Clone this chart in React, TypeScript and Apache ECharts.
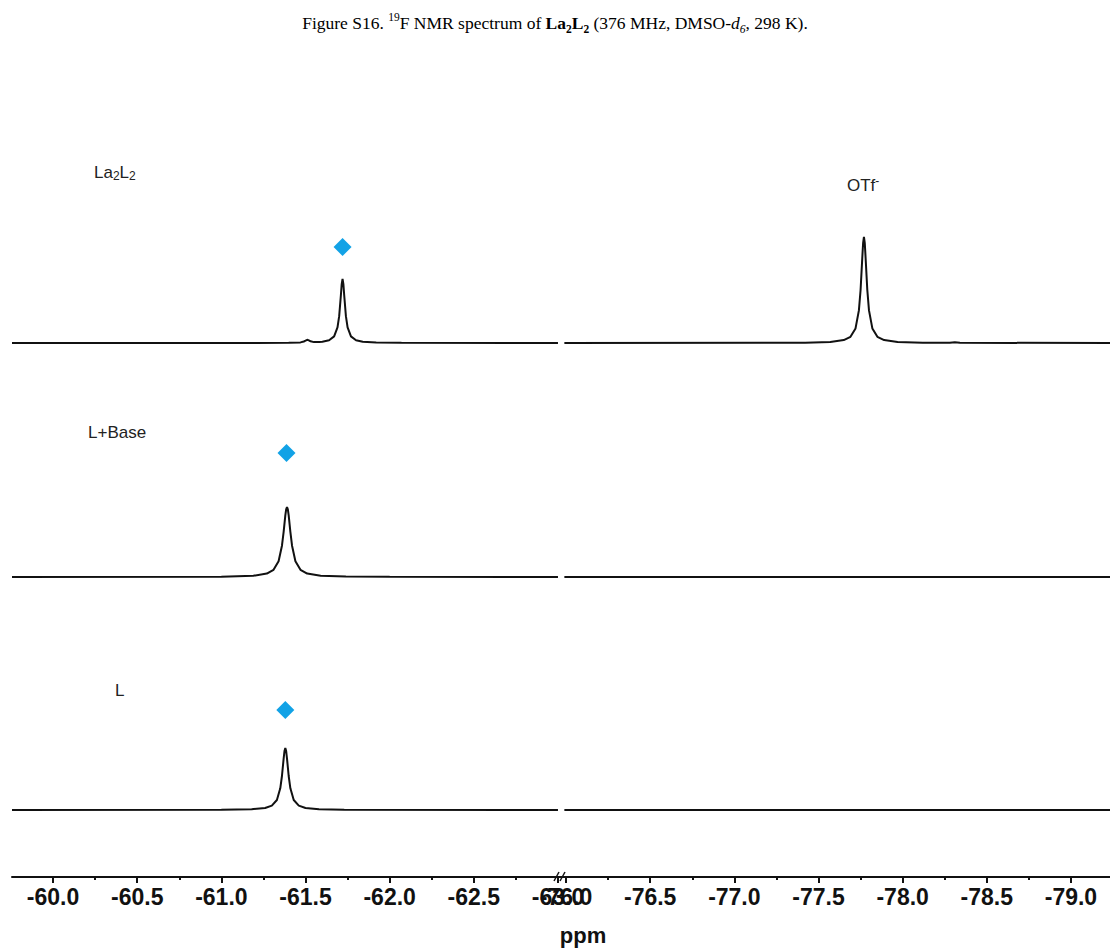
import React, { useEffect, useRef } from "react";
import * as echarts from "echarts";

// ---------- data (ppm, intensity above baseline) ----------
const La2L2Left: [number, number][] = [
  [-59.756, 0], [-61.2, 0.1], [-61.4, 0.3], [-61.47, 0.6], [-61.49, 1.5], [-61.5, 2.3],
  [-61.51, 3.2], [-61.52, 2.6], [-61.53, 1.7], [-61.55, 0.9], [-61.58, 0.9], [-61.6, 1.3],
  [-61.64, 2.8], [-61.67, 6.6], [-61.69, 15.6], [-61.7, 26.8], [-61.71, 47.5], [-61.715, 58.9],
  [-61.72, 64], [-61.725, 58.9], [-61.73, 47.5], [-61.74, 26.8], [-61.75, 15.6], [-61.77, 6.6],
  [-61.8, 2.8], [-61.84, 1.3], [-61.92, 0.46], [-62.07, 0.15], [-63.0, 0],
];
const La2L2Right: [number, number][] = [
  [-75.99, 0], [-77.3, 0.2], [-77.42, 0.35], [-77.57, 1.05], [-77.65, 2.9], [-77.69, 6.2],
  [-77.72, 14.6], [-77.74, 32.6], [-77.75, 53], [-77.76, 84.8], [-77.765, 99.8], [-77.77, 106],
  [-77.775, 99.8], [-77.78, 84.8], [-77.79, 53], [-77.8, 32.6], [-77.82, 14.6], [-77.85, 6.2],
  [-77.89, 2.9], [-77.97, 1.05], [-78.12, 0.35], [-78.28, 0.2], [-78.31, 0.8], [-78.34, 0.2],
  [-79.232, 0],
];
const LBaseLeft: [number, number][] = [
  [-59.756, 0], [-61.0, 0.3], [-61.19, 1.25], [-61.27, 3.4], [-61.31, 7.2], [-61.34, 15.8],
  [-61.36, 31.3], [-61.37, 45.2], [-61.38, 61.6], [-61.385, 67.7], [-61.39, 70], [-61.395, 67.7],
  [-61.4, 61.6], [-61.41, 45.2], [-61.42, 31.3], [-61.44, 15.8], [-61.47, 7.2], [-61.51, 3.4],
  [-61.59, 1.25], [-61.74, 0.41], [-62.0, 0.15], [-63.0, 0],
];
const LBaseRight: [number, number][] = [[-75.99, 0], [-79.232, 0]];
const LLeft: [number, number][] = [
  [-59.756, 0], [-61.0, 0.15], [-61.18, 0.74], [-61.26, 2], [-61.3, 4.4], [-61.33, 10],
  [-61.35, 21.7], [-61.36, 34], [-61.37, 51.4], [-61.375, 59], [-61.38, 62], [-61.385, 59],
  [-61.39, 51.4], [-61.4, 34], [-61.41, 21.7], [-61.43, 10], [-61.46, 4.4], [-61.5, 2],
  [-61.58, 0.74], [-61.73, 0.25], [-63.0, 0],
];
const LRight: [number, number][] = [[-75.99, 0], [-79.232, 0]];

// diamond markers: ppm of the marked peak
const markerPpm = [-61.72, -61.387, -61.38];

// tick labels
const leftTickLabels = [-60.0, -60.5, -61.0, -61.5, -62.0, -62.5, -63.0];
const rightTickLabels = [-76.0, -76.5, -77.0, -77.5, -78.0, -78.5, -79.0];
const leftMinorTicks = [-59.75, -60.25, -60.75, -61.25, -61.75, -62.25, -62.75];
const rightMinorTicks = [-76.25, -76.75, -77.25, -77.75, -78.25, -78.75, -79.25];

// ---------- layout constants ----------
const LEFT_MIN = -63.018, LEFT_MAX = -59.756;
const RIGHT_MIN = -79.232, RIGHT_MAX = -75.97;
const OFFSETS = [534, 300, 67]; // La2L2, L+Base, L baselines (px units above axis)
const MARKER_LIFT = [96, 124, 100];
const INK = "#111111";
const BLUE = "#12a2e6";
const SANS = "'Liberation Sans', Arial, sans-serif";
const SERIF = "'Liberation Serif', 'Times New Roman', serif";

function shift(d: [number, number][], off: number) {
  return d.map(([x, y]) => [x, y + off]);
}

function majorAxis(gridIndex: number, min: number, max: number, vals: number[]) {
  return {
    type: "value", gridIndex, min, max, inverse: true, position: "bottom",
    axisLine: { show: true, onZero: false, lineStyle: { color: INK, width: 2 } },
    axisTick: { show: true, customValues: vals, length: 6, lineStyle: { color: INK, width: 2 } },
    axisLabel: {
      show: true, customValues: vals, formatter: (v: number) => v.toFixed(1),
      fontSize: 23, fontWeight: "bold", color: INK, fontFamily: SANS, margin: 8,
    },
    splitLine: { show: false },
  };
}
function minorAxis(gridIndex: number, min: number, max: number, vals: number[]) {
  return {
    type: "value", gridIndex, min, max, inverse: true, position: "bottom",
    axisLine: { show: false },
    axisTick: { show: true, customValues: vals, length: 3, lineStyle: { color: INK, width: 2 } },
    axisLabel: { show: false },
    splitLine: { show: false },
  };
}

function lineSeries(data: [number, number][], off: number, xi: number) {
  return {
    type: "line", xAxisIndex: xi, yAxisIndex: xi, data: shift(data, off),
    showSymbol: false, symbol: "none", smooth: false, silent: true,
    lineStyle: { color: INK, width: 2 },
  };
}

export default function App() {
  const ref = useRef<HTMLDivElement>(null);
  useEffect(() => {
    if (!ref.current) return;
    const chart = echarts.init(ref.current, undefined, { renderer: "svg" });
    const base = { fontFamily: SERIF, color: "#000", fontWeight: "normal" as const };
    const option: any = {
      animation: false,
      backgroundColor: "#ffffff",
      title: {
        left: "center", top: 6,
        text: "{n|Figure S16. }{sup|19}{n|F NMR spectrum of }{b|La}{bs|2}{b|L}{bs|2}{n| (376 MHz, DMSO-}{i|d}{is|6}{n|, 298 K).}",
        textStyle: {
          fontWeight: "normal",
          rich: {
            n: { ...base, fontSize: 17.5, lineHeight: 24 },
            sup: { ...base, fontSize: 11.5, verticalAlign: "top", lineHeight: 16 },
            b: { ...base, fontSize: 17.5, fontWeight: "bold", lineHeight: 24 },
            bs: { ...base, fontSize: 11.5, fontWeight: "bold", verticalAlign: "bottom", lineHeight: 16 },
            i: { ...base, fontSize: 17.5, fontStyle: "italic", lineHeight: 24 },
            is: { ...base, fontSize: 11.5, fontStyle: "italic", verticalAlign: "bottom", lineHeight: 16 },
          },
        },
      },
      grid: [
        { left: 12, top: 175, width: 549, bottom: 72 },
        { left: 561, top: 175, width: 549, bottom: 72 },
      ],
      xAxis: [
        majorAxis(0, LEFT_MIN, LEFT_MAX, leftTickLabels),
        majorAxis(1, RIGHT_MIN, RIGHT_MAX, rightTickLabels),
        minorAxis(0, LEFT_MIN, LEFT_MAX, leftMinorTicks),
        minorAxis(1, RIGHT_MIN, RIGHT_MAX, rightMinorTicks),
      ],
      yAxis: [
        { type: "value", gridIndex: 0, min: 0, max: 702, show: false },
        { type: "value", gridIndex: 1, min: 0, max: 702, show: false },
      ],
      series: [
        lineSeries(La2L2Left, OFFSETS[0], 0),
        lineSeries(LBaseLeft, OFFSETS[1], 0),
        lineSeries(LLeft, OFFSETS[2], 0),
        lineSeries(La2L2Right, OFFSETS[0], 1),
        lineSeries(LBaseRight, OFFSETS[1], 1),
        lineSeries(LRight, OFFSETS[2], 1),
        {
          type: "scatter", xAxisIndex: 0, yAxisIndex: 0, symbol: "diamond", symbolSize: [18, 18],
          itemStyle: { color: BLUE, opacity: 1 }, silent: true,
          data: markerPpm.map((p, i) => [p, OFFSETS[i] + MARKER_LIFT[i]]),
        },
      ],
      graphic: [
        {
          type: "text", x: 94, y: 172,
          style: {
            text: "{m|La}{s|2}{m|L}{s|2}", verticalAlign: "middle", align: "left",
            rich: {
              m: { fontFamily: SANS, fontSize: 17, fill: "#222", lineHeight: 20 },
              s: { fontFamily: SANS, fontSize: 12, fill: "#222", verticalAlign: "bottom", lineHeight: 13 },
            },
          },
        },
        {
          type: "text", x: 88, y: 432,
          style: { text: "L+Base", font: `17px ${SANS}`, fill: "#222", verticalAlign: "middle", align: "left" },
        },
        {
          type: "text", x: 115, y: 690,
          style: { text: "L", font: `17px ${SANS}`, fill: "#222", verticalAlign: "middle", align: "left" },
        },
        {
          type: "text", x: 847, y: 185,
          style: {
            text: "{m|OTf}{s|-}", verticalAlign: "middle", align: "left",
            rich: {
              m: { fontFamily: SANS, fontSize: 17, fill: "#222", lineHeight: 20 },
              s: { fontFamily: SANS, fontSize: 12, fill: "#222", verticalAlign: "top", lineHeight: 12 },
            },
          },
        },
        {
          type: "text", x: 583, y: 935,
          style: { text: "ppm", font: `bold 22px ${SANS}`, fill: INK, align: "center", verticalAlign: "middle" },
        },
        { type: "line", shape: { x1: 554, y1: 881, x2: 559, y2: 872 }, style: { stroke: INK, lineWidth: 1.5 } },
        { type: "line", shape: { x1: 560, y1: 881, x2: 565, y2: 872 }, style: { stroke: INK, lineWidth: 1.5 } },
      ],
    };
    chart.setOption(option);
    return () => chart.dispose();
  }, []);
  return (
    <div
      ref={ref}
      style={{ position: "absolute", left: 0, top: 0, width: 1110, height: 949, background: "#fff" }}
    />
  );
}
